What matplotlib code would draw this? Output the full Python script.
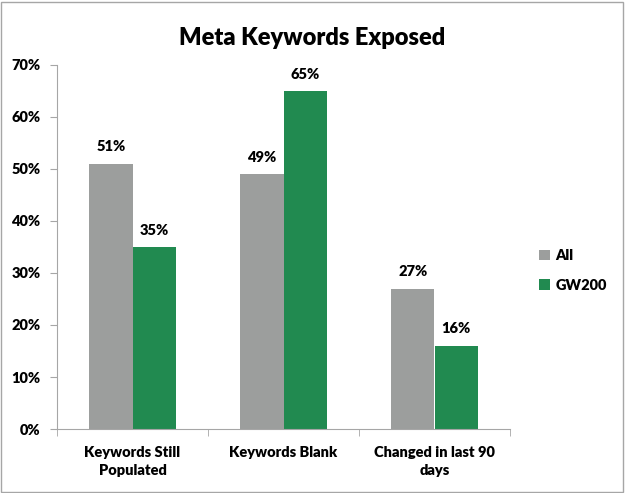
import numpy as np
import matplotlib.pyplot as plt
from matplotlib.ticker import FuncFormatter
from matplotlib.patches import Rectangle

plt.rcParams['font.family'] = ['Lato', 'DejaVu Sans']
plt.rcParams['font.weight'] = 'heavy'

# Data
categories = ['Keywords Still\nPopulated', 'Keywords Blank', 'Changed in last 90\ndays']
all_vals = [51, 49, 27]
gw200_vals = [35, 65, 16]

gray = '#9C9E9D'
green = '#218A50'
axis_col = '#A6A6A6'
wt = 'heavy'

fig = plt.figure(figsize=(6.25, 4.93), dpi=100)
ax = fig.add_axes([0.0912, 0.1298, 0.7248, 0.7384])

x = np.arange(len(categories))
w = 0.285
b1 = ax.bar(x - w / 2, all_vals, w, color=gray, label='All')
b2 = ax.bar(x + w / 2, gw200_vals, w, color=green, label='GW200')

for bars in (b1, b2):
    for r in bars:
        ax.text(r.get_x() + r.get_width() / 2, r.get_height() + 2.0, f"{int(r.get_height())}%",
                ha='center', va='bottom', fontsize=10.5, fontweight=wt)

ax.set_xlim(-0.5, 2.5)
ax.set_ylim(0, 70)
ax.set_yticks(range(0, 71, 10))
ax.yaxis.set_major_formatter(FuncFormatter(lambda y, _: f"{int(y)}%"))
ax.set_xticks(x)
ax.set_xticklabels(categories, fontsize=10.5, fontweight=wt, linespacing=1.5)
ax.set_xticks([-0.5, 0.5, 1.5, 2.5], minor=True)
ax.tick_params(axis='x', which='major', length=0, pad=12)
ax.tick_params(axis='x', which='minor', length=5, color=axis_col, direction='out')
ax.tick_params(axis='y', length=5, color=axis_col, labelsize=10.5, pad=7)
for lab in ax.get_yticklabels():
    lab.set_fontweight(wt)

for s in ['top', 'right']:
    ax.spines[s].set_visible(False)
for s in ['left', 'bottom']:
    ax.spines[s].set_color(axis_col)

fig.text(0.5, 0.923, 'Meta Keywords Exposed', ha='center', va='center',
         fontsize=17, fontweight=wt)

fig.legend(handles=[b1, b2], labels=['All', 'GW200'], loc='center left',
           bbox_to_anchor=(0.842, 0.452), frameon=False,
           handlelength=0.7, handleheight=0.7, handletextpad=0.4, labelspacing=1.15,
           prop={'weight': wt, 'size': 10.5})

# border around figure
fig.patches.append(Rectangle((0.002, 0.002), 0.994, 0.994, transform=fig.transFigure,
                             fill=False, edgecolor=axis_col, linewidth=1))

plt.savefig('out.png', dpi=100)
